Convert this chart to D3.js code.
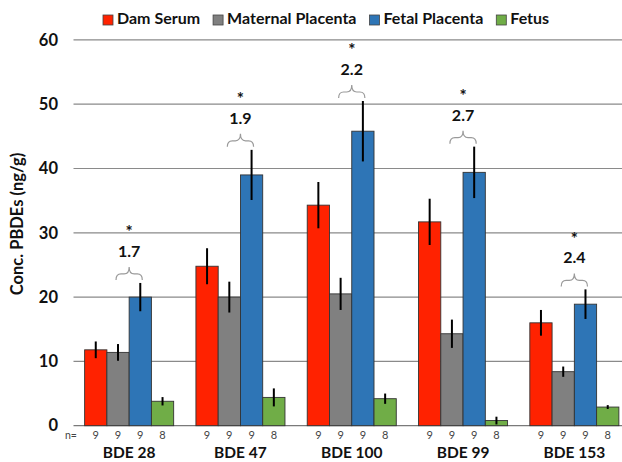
<!DOCTYPE html>
<html>
<head>
<meta charset="utf-8">
<script src="https://cdn.jsdelivr.net/npm/d3@7"></script>
<style>
  html, body { margin: 0; padding: 0; background: #fff; }
  svg { display: block; font-family: Lato, "Open Sans", sans-serif; }
</style>
</head>
<body>
<svg id="chart" width="622" height="462"></svg>
<script>
// Congeners and tissue compartments
const congeners = ["BDE 28", "BDE 47", "BDE 100", "BDE 99", "BDE 153"];
const tissues = ["Dam Serum", "Maternal Placenta", "Fetal Placenta", "Fetus"];
const tissueColors = ["#FF2200", "#808080", "#2E75B6", "#70AD47"];

// Mean concentrations (ng/g), one array per tissue, ordered like congeners
const damSerum         = [11.8, 24.8, 34.3, 31.7, 16.0];
const maternalPlacenta = [11.4, 20.0, 20.5, 14.3, 8.4];
const fetalPlacenta    = [20.0, 39.0, 45.8, 39.4, 18.9];
const fetus            = [3.8, 4.4, 4.2, 0.8, 2.9];

// Standard errors
const damSerumErr         = [1.3, 2.8, 3.6, 3.6, 2.0];
const maternalPlacentaErr = [1.3, 2.4, 2.5, 2.2, 0.8];
const fetalPlacentaErr    = [2.2, 3.9, 4.7, 4.0, 2.3];
const fetusErr            = [0.65, 1.4, 0.8, 0.6, 0.3];

// Sample sizes per tissue
const sampleSizes = [9, 9, 9, 8];

// Fetal / maternal placenta ratios (all significant)
const ratioLabels = ["1.7", "1.9", "2.2", "2.7", "2.4"];

const yTicks = [0, 10, 20, 30, 40, 50, 60];

const means = [damSerum, maternalPlacenta, fetalPlacenta, fetus];
const errs = [damSerumErr, maternalPlacentaErr, fetalPlacentaErr, fetusErr];

const rows = [];
congeners.forEach((c, i) => {
  tissues.forEach((t, j) => {
    rows.push({ congener: c, tissue: t, ti: j, value: means[j][i], err: errs[j][i], n: sampleSizes[j] });
  });
});

const svg = d3.select("#chart");
const plotLeft = 73.5, plotRight = 630, yTop = 39.9, yBottom = 425.7;

const x0 = d3.scaleBand().domain(congeners).range([plotLeft, plotRight]).paddingInner(0.2).paddingOuter(0.1);
const x1 = d3.scaleBand().domain(tissues).range([0, x0.bandwidth()]);
const y = d3.scaleLinear().domain([0, 60]).range([yBottom, yTop]);

// Horizontal gridlines
svg.append("g").selectAll("line").data(yTicks).join("line")
  .attr("x1", plotLeft).attr("x2", 622)
  .attr("y1", d => y(d)).attr("y2", d => y(d))
  .attr("stroke", d => d === 0 ? "#7a7a7a" : "#8a8a8a")
  .attr("stroke-width", 1.2);

// Y axis tick labels
const yAxis = d3.axisLeft(y).tickValues(yTicks).tickSize(0).tickPadding(0);
const yg = svg.append("g").attr("transform", `translate(58,0)`).call(yAxis);
yg.select(".domain").remove();
yg.selectAll("text").attr("font-size", 16.5).attr("font-weight", "bold")
  .attr("fill", "#111").attr("font-family", "Lato, sans-serif");

// Y axis title
svg.append("text")
  .attr("transform", `translate(19,224) rotate(-90)`)
  .attr("text-anchor", "middle").attr("dominant-baseline", "middle")
  .attr("font-size", 16.5).attr("font-weight", "bold").attr("fill", "#111")
  .text("Conc. PBDEs (ng/g)");

// Bars
const bx = d => x0(d.congener) + x1(d.tissue);
svg.append("g").selectAll("rect").data(rows).join("rect")
  .attr("x", bx).attr("width", x1.bandwidth())
  .attr("y", d => y(d.value)).attr("height", d => y(0) - y(d.value))
  .attr("fill", d => tissueColors[d.ti])
  .attr("stroke", "#333").attr("stroke-width", 0.9);

// Error bars
svg.append("g").selectAll("line").data(rows).join("line")
  .attr("x1", d => bx(d) + x1.bandwidth() / 2).attr("x2", d => bx(d) + x1.bandwidth() / 2)
  .attr("y1", d => y(d.value + d.err)).attr("y2", d => y(Math.max(0, d.value - d.err)))
  .attr("stroke", "#000").attr("stroke-width", 2);

// Sample sizes below bars
svg.append("g").selectAll("text").data(rows).join("text")
  .attr("x", d => bx(d) + x1.bandwidth() / 2).attr("y", 438.5)
  .attr("text-anchor", "middle").attr("font-size", 11).attr("fill", "#444")
  .text(d => d.n);
svg.append("text").attr("x", 65).attr("y", 438.5).attr("font-size", 10.5).attr("fill", "#444").text("n=");

// Congener labels
svg.append("g").selectAll("text").data(congeners).join("text")
  .attr("x", d => x0(d) + x0.bandwidth() / 2).attr("y", 457.5)
  .attr("text-anchor", "middle").attr("font-size", 15.5).attr("font-weight", "bold").attr("fill", "#111")
  .text(d => d);

// Ratio annotations: overbrace from maternal to fetal placenta, ratio and asterisk
const ann = svg.append("g");
congeners.forEach((c, i) => {
  const xa = x0(c) + x1("Maternal Placenta") + x1.bandwidth() / 2 - 2;
  const xb = x0(c) + x1("Fetal Placenta") + x1.bandwidth() / 2 + 2;
  const yb = y(fetalPlacenta[i] + fetalPlacentaErr[i]) - 3;
  const yt = yb - 13;
  const ym = yb - 6;
  const xm = (xa + xb) / 2, r = 5;
  const p = `M${xa},${yb} Q${xa},${ym} ${xa + r},${ym} L${xm - r},${ym} Q${xm},${ym} ${xm},${yt} ` +
            `Q${xm},${ym} ${xm + r},${ym} L${xb - r},${ym} Q${xb},${ym} ${xb},${yb}`;
  ann.append("path").attr("d", p).attr("fill", "none").attr("stroke", "#9a9a9a").attr("stroke-width", 1.2);
  ann.append("text").attr("x", xm).attr("y", yt - 14)
    .attr("text-anchor", "middle").attr("dominant-baseline", "middle")
    .attr("font-size", 16).attr("font-weight", "bold").attr("fill", "#111")
    .text(ratioLabels[i]);
  ann.append("text").attr("x", xm).attr("y", yt - 33)
    .attr("text-anchor", "middle").attr("dominant-baseline", "middle")
    .attr("font-size", 17).attr("font-weight", "bold").attr("fill", "#111")
    .text("*");
});

// Legend
const legend = svg.append("g").attr("transform", "translate(103,20)");
let lx = 0;
tissues.forEach((t, j) => {
  const g = legend.append("g").attr("transform", `translate(${lx},0)`);
  g.append("rect").attr("x", 0).attr("y", -5).attr("width", 10).attr("height", 10)
    .attr("fill", tissueColors[j]).attr("stroke", "#444").attr("stroke-width", 0.8);
  const txt = g.append("text").attr("x", 14).attr("y", 0).attr("dominant-baseline", "middle")
    .attr("font-size", 16).attr("font-weight", "bold").attr("fill", "#111").text(t);
  lx += 14 + txt.node().getComputedTextLength() + 13;
});
</script>
</body>
</html>
